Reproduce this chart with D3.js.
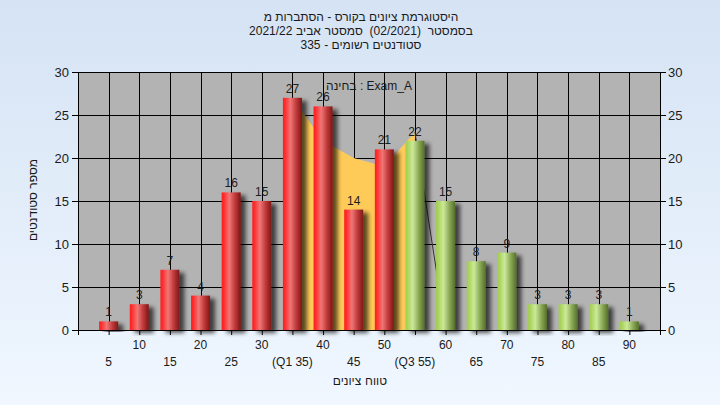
<!DOCTYPE html>
<html><head><meta charset="utf-8">
<script src="https://cdn.jsdelivr.net/npm/d3@7"></script>
<style>html,body{margin:0;padding:0;overflow:hidden}svg{display:block}text{font-family:"Liberation Sans",Arial,sans-serif}</style>
</head><body>
<script>
const categories = [5,10,15,20,25,30,35,40,45,50,55,60,65,70,75,80,85,90];
const counts     = [1,3,7,4,16,15,27,26,14,21,22,15,8,9,3,3,3,1];
const xTickLabels = ["5","10","15","20","25","30","(Q1 35)","40","45","50","(Q3 55)","60","65","70","75","80","85","90"];
const areaCats = [35,40,45,50,55,60];
const areaVals = [27,22,20,19,23,0];
const yTicks = [0,5,10,15,20,25,30];
const titleLines = ["היסטוגרמת ציונים בקורס - הסתברות מ","בסמסטר  (02/2021)  סמסטר אביב 2021/22","סטודנטים רשומים - 335"];
const legendText = "בחינה : Exam_A";
const xTitle = "טווח ציונים";
const yTitle = "מספר סטודנטים";

const W = 720, H = 405;
const M = {left:78, right:660, top:72, bottom:330};

const svg = d3.select("body").append("svg").attr("width",W).attr("height",H);
const defs = svg.append("defs");
const bg = defs.append("linearGradient").attr("id","bg").attr("x1",0).attr("y1",0).attr("x2",0).attr("y2",1);
bg.append("stop").attr("offset","0%").attr("stop-color","#d5e3f4");
bg.append("stop").attr("offset","100%").attr("stop-color","#f0f7ff");
const red = defs.append("linearGradient").attr("id","red");
[["0%","#ff1e1e"],["12%","#ff2e2e"],["40%","#f07676"],["70%","#c03a3a"],["100%","#7e1616"]].forEach(s=>red.append("stop").attr("offset",s[0]).attr("stop-color",s[1]));
const green = defs.append("linearGradient").attr("id","green");
[["0%","#a2cc52"],["12%","#aad45c"],["38%","#cce99a"],["70%","#8aa955"],["100%","#556f2c"]].forEach(s=>green.append("stop").attr("offset",s[0]).attr("stop-color",s[1]));
const f = defs.append("filter").attr("id","sh").attr("x","-50%").attr("y","-20%").attr("width","200%").attr("height","140%");
f.append("feDropShadow").attr("dx",5).attr("dy",3).attr("stdDeviation",2.2).attr("flood-color","#000").attr("flood-opacity",0.65);

svg.append("rect").attr("width",W).attr("height",H).attr("fill","url(#bg)");

const x = d3.scaleLinear().domain([0,95]).range([M.left,M.right]);
const y = d3.scaleLinear().domain([0,30]).range([M.bottom,M.top]);

svg.append("rect").attr("x",M.left).attr("y",M.top).attr("width",M.right-M.left).attr("height",M.bottom-M.top).attr("fill","#b3b3b3");

const grid = svg.append("g").attr("stroke","#000").attr("stroke-width",1).attr("shape-rendering","crispEdges");
grid.selectAll(".gv").data(categories).join("line").attr("x1",d=>Math.round(x(d))+0.5).attr("x2",d=>Math.round(x(d))+0.5).attr("y1",M.top).attr("y2",M.bottom);
grid.selectAll(".gh").data(yTicks).join("line").attr("x1",M.left).attr("x2",M.right).attr("y1",d=>Math.round(y(d))+0.5).attr("y2",d=>Math.round(y(d))+0.5);

const areaGen = d3.area().x((d,i)=>x(areaCats[i])).y0(y(0)).y1(d=>y(d));
svg.append("path").datum(areaVals.slice(0,5)).attr("d",areaGen).attr("fill","#ffcb58");
svg.append("path").datum(areaVals.slice(4)).attr("d",d3.line().x((d,i)=>x(areaCats[i+4])).y(d=>y(d))).attr("fill","none").attr("stroke","#333").attr("stroke-width",1);

const bw = 19;
svg.append("g").selectAll("rect").data(categories).join("rect")
  .attr("x",(d)=>x(d)-bw/2).attr("width",bw)
  .attr("y",(d,i)=>y(counts[i])).attr("height",(d,i)=>y(0)-y(counts[i]))
  .attr("fill",d=>d<=50?"url(#red)":"url(#green)").attr("filter","url(#sh)");

svg.append("g").selectAll("text").data(categories).join("text")
  .attr("x",d=>x(d)).attr("y",(d,i)=>y(counts[i])-5)
  .attr("text-anchor","middle").attr("font-size",12).attr("fill","#1e1e1e")
  .text((d,i)=>counts[i]);

const axG = svg.append("g").attr("font-size",12);
const yl = axG.append("g").attr("transform",`translate(${M.left},0)`).call(d3.axisLeft(y).tickValues(yTicks).tickSize(6).tickPadding(3));
const yr = axG.append("g").attr("transform",`translate(${M.right},0)`).call(d3.axisRight(y).tickValues(yTicks).tickSize(6).tickPadding(2));
const xb = axG.append("g").attr("transform",`translate(0,${M.bottom})`).call(d3.axisBottom(x).tickValues(d3.range(0,100,5)).tickSize(5).tickFormat(""));
[yl,yr,xb].forEach(g=>{g.select(".domain").attr("stroke","#000"); g.selectAll("line").attr("stroke","#000"); g.selectAll("text").attr("fill","#1a1a1a").attr("font-family","Liberation Sans, Arial, sans-serif").attr("font-size",13);});
xb.select(".domain").attr("d",`M${M.left-6},0.5H${M.right+6}`);

svg.append("g").selectAll("text").data(categories).join("text")
  .attr("x",d=>x(d)).attr("y",(d,i)=>i%2===1?349:366)
  .attr("text-anchor","middle").attr("font-size",12).attr("fill","#1a1a1a")
  .text((d,i)=>xTickLabels[i]);

// words placed one by one, last word on the right
function placeWords(str, cx, yy) {
  const g = svg.append("g").attr("font-size",12).attr("fill","#1a1a1a");
  const toks = str.split(" ").reverse();
  const sp = 12*0.278;
  const nodes = toks.map(t => g.append("text").attr("y",yy).attr("text-anchor","start").attr("direction","ltr").text(t));
  const ws = nodes.map(n => n.node().getBBox().width);
  const total = d3.sum(ws) + sp*(toks.length-1);
  let cur = cx - total/2;
  nodes.forEach((n,i)=>{ n.attr("x",cur); cur += ws[i] + sp; });
}
titleLines.forEach((t,i)=>placeWords(t, 361, 21+i*14));
svg.append("text").attr("x",369).attr("y",90).attr("text-anchor","middle").attr("font-size",12).attr("fill","#1a1a1a").text(legendText);
placeWords(xTitle, 360, 385);
svg.append("text").attr("transform","translate(37,200) rotate(-90)").attr("text-anchor","middle").attr("font-size",12).attr("fill","#1a1a1a").text(yTitle);
</script>
</body></html>
